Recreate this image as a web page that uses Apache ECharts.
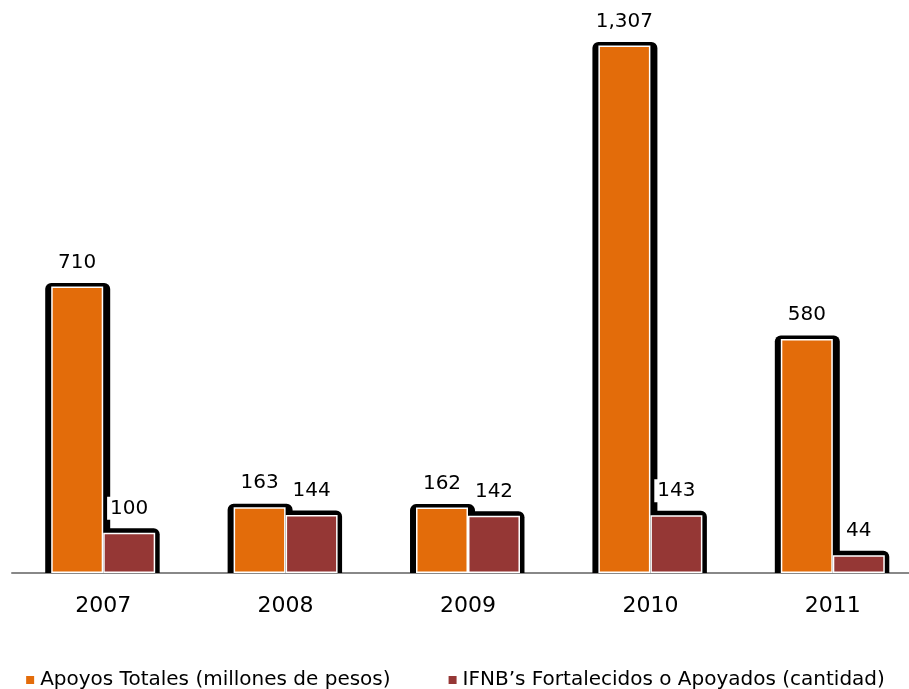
<!DOCTYPE html>
<html>
<head>
<meta charset="utf-8">
<script src="https://cdn.jsdelivr.net/npm/echarts@6/dist/echarts.min.js"></script>
<style>
  html, body { margin: 0; padding: 0; background: #fff; }
  #chart { width: 909px; height: 689px; }
</style>
</head>
<body>
<div id="chart"></div>
<script>
// Annual support figures
const years = ['2007', '2008', '2009', '2010', '2011'];
const apoyosTotales = [710, 163, 162, 1307, 580];   // millones de pesos
const ifnbApoyados = [100, 144, 142, 143, 44];      // cantidad

const seriesNames = [
  'Apoyos Totales (millones de pesos)',
  'IFNB\u2019s Fortalecidos o Apoyados (cantidad)'
];
const colors = ['#E36C0A', '#953735'];
const BAR_FRACTION = 0.285;
const FONT = '"DejaVu Sans", sans-serif';

// Black backing shape drawn behind each bar (offset outline effect)
function backShape(side) {
  return function (params, api) {
    const idx = api.value(0);
    const top = api.coord([idx, api.value(1)]);
    const base = api.coord([idx, 0]);
    const band = api.size([1, 0])[0];
    const bw = band * BAR_FRACTION;
    let x0, x1, lift;
    if (side === 0) { x0 = top[0] - bw - 6; x1 = top[0] + 7; lift = 3.5; }
    else { x0 = top[0]; x1 = top[0] + bw + 4.5; lift = 4.5; }
    const y0 = top[1] - lift;
    return {
      type: 'rect',
      shape: { x: x0, y: y0, width: x1 - x0, height: base[1] - y0, r: [6, 6, 0, 0] },
      style: { fill: '#000' }
    };
  };
}

const labelFmt = p => Number(p.value).toLocaleString('en-US');

const chart = echarts.init(document.getElementById('chart'), null, { renderer: 'canvas' });
chart.setOption({
  backgroundColor: '#fff',
  animation: false,
  grid: { left: 12, width: 912, top: 8, bottom: 116, outerBoundsMode: 'none', containLabel: false },
  legend: {
    data: seriesNames,
    top: 665,
    left: 'center',
    itemWidth: 10,
    itemHeight: 10,
    itemGap: 56,
    icon: 'rect',
    textStyle: { fontFamily: FONT, fontSize: 20, color: '#000' }
  },
  xAxis: {
    type: 'category',
    data: years,
    axisLine: { lineStyle: { color: '#888888', width: 2 } },
    axisTick: { show: false },
    axisLabel: { fontFamily: FONT, fontSize: 22, color: '#000', margin: 22 }
  },
  yAxis: {
    type: 'value',
    min: 0,
    max: 1400,
    show: false,
    splitLine: { show: false }
  },
  series: [
    {
      name: 'back0', type: 'custom', renderItem: backShape(0), z: 1,
      data: apoyosTotales.map((v, i) => [i, v]), silent: true
    },
    {
      name: 'back1', type: 'custom', renderItem: backShape(1), z: 1,
      data: ifnbApoyados.map((v, i) => [i, v]), silent: true
    },
    {
      name: seriesNames[0], type: 'bar', z: 3,
      data: apoyosTotales,
      barWidth: (BAR_FRACTION * 100) + '%',
      barGap: '0%',
      itemStyle: { color: colors[0], borderColor: '#fff', borderWidth: 1.5 },
      label: {
        show: true, position: 'top', distance: 13, formatter: labelFmt,
        fontFamily: FONT, fontSize: 20, color: '#000',
        backgroundColor: '#fff', padding: [2, 3, 1, 3]
      }
    },
    {
      name: seriesNames[1], type: 'bar', z: 3,
      data: ifnbApoyados,
      barWidth: (BAR_FRACTION * 100) + '%',
      barGap: '0%',
      itemStyle: { color: colors[1], borderColor: '#fff', borderWidth: 1.5 },
      label: {
        show: true, position: 'top', distance: 13, formatter: labelFmt,
        fontFamily: FONT, fontSize: 20, color: '#000',
        backgroundColor: '#fff', padding: [2, 3, 1, 3]
      }
    }
  ]
});
</script>
</body>
</html>
